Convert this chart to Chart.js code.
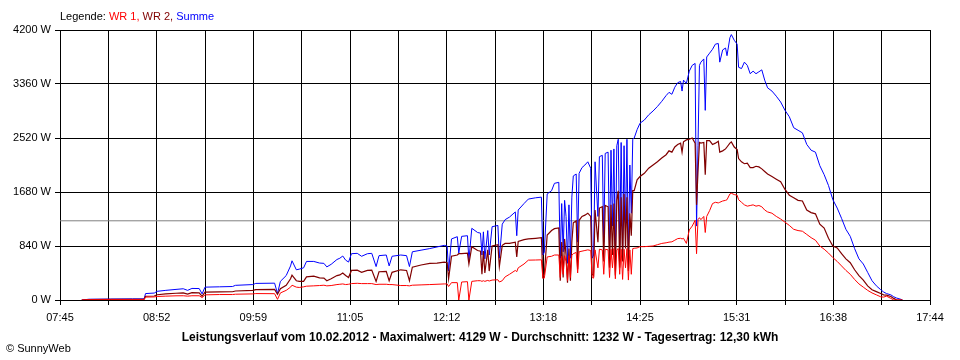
<!DOCTYPE html>
<html>
<head>
<meta charset="utf-8">
<script src="https://cdn.jsdelivr.net/npm/chart.js@4.4.1/dist/chart.umd.min.js"></script>
<style>
html,body{margin:0;padding:0;background:#fff;}
#wrap{position:relative;width:960px;height:360px;overflow:hidden;font-family:"Liberation Sans",Arial,sans-serif;font-size:11px;color:#000;background:#fff;}
#c{position:absolute;left:0;top:0;}
#legend{position:absolute;left:60px;top:10px;white-space:nowrap;line-height:13px;}
#title{position:absolute;left:0;width:960px;top:330px;text-align:center;font-weight:bold;font-size:12px;line-height:14px;white-space:nowrap;}
#copy{position:absolute;left:6px;top:342px;line-height:13px;white-space:nowrap;}
</style>
</head>
<body>
<div id="wrap">
<canvas id="c" width="960" height="360"></canvas>
<div id="legend">Legende: <span style="color:#ff0000">WR 1,</span> <span style="color:#800000">WR 2,</span> <span style="color:#0000ff">Summe</span></div>
<div id="title">Leistungsverlauf vom 10.02.2012 - Maximalwert: 4129 W - Durchschnitt: 1232 W - Tagesertrag: 12,30 kWh</div>
<div id="copy">© SunnyWeb</div>
</div>
<script>
// ---- data ----
const tickLabels = ['07:45','08:52','09:59','11:05','12:12','13:18','14:25','15:31','16:38','17:44'];
const xStart = '07:45';
const xEnd = '17:45';
const yMax = 4200;
const yStep = 840;
const average = 1232;

const times = ['08:00','08:05','08:20','08:35','08:43','08:44','08:50','08:52','08:58','09:05','09:10','09:13','09:16','09:21','09:23','09:25','09:35','09:44','09:46','09:58','10:00','10:13','10:15','10:17','10:21','10:24','10:25','10:28','10:30','10:33','10:35','10:40','10:44','10:47','10:49','10:52','10:56','10:58','11:00','11:02','11:04','11:06','11:10','11:13','11:17','11:20','11:23','11:25','11:30','11:32','11:34','11:40','11:44','11:46','11:48','11:54','12:00','12:05','12:10','12:12','12:13','12:15','12:19','12:20','12:22','12:26','12:27','12:29','12:33','12:35','12:36','12:37','12:38','12:40','12:41','12:43','12:47','12:48','12:50','12:52','12:55','12:59','13:00','13:01','13:05','13:08','13:13','13:17','13:18','13:19','13:21','13:24','13:26','13:29','13:30','13:31','13:32','13:33','13:34','13:35','13:36','13:37','13:38','13:39','13:41','13:42','13:43','13:45','13:47','13:49','13:51','13:52','13:53','13:54','13:56','13:57','13:59','14:00','14:01','14:03','14:04','14:05','14:06','14:07','14:08','14:09','14:10','14:11','14:12','14:13','14:14','14:15','14:16','14:17','14:18','14:19','14:20','14:21','14:23','14:25','14:28','14:31','14:34','14:37','14:40','14:43','14:45','14:47','14:49','14:51','14:53','14:54','14:55','14:57','14:59','15:01','15:03','15:04','15:05','15:06','15:07','15:09','15:10','15:11','15:13','15:15','15:17','15:19','15:20','15:22','15:24','15:25','15:27','15:28','15:30','15:32','15:33','15:35','15:37','15:39','15:41','15:43','15:45','15:47','15:49','15:51','15:53','15:56','15:59','16:02','16:05','16:08','16:11','16:14','16:17','16:20','16:23','16:26','16:29','16:32','16:35','16:38','16:41','16:44','16:47','16:50','16:53','16:56','16:59','17:02','17:05','17:08','17:11','17:13','17:15','17:18','17:20','17:22','17:25','17:26'];

const wr1 = [0,4,5,6,6,45,48,55,60,65,66,60,66,66,38,80,85,85,90,95,100,98,10,110,150,200,230,200,195,205,215,220,225,230,220,225,240,245,250,240,245,255,260,255,255,255,240,245,245,240,240,225,225,220,230,235,240,245,250,250,210,270,270,0,280,285,0,290,300,300,290,300,290,305,295,310,315,280,300,360,400,460,440,500,560,620,622,625,340,340,670,680,700,700,350,680,400,690,600,300,690,350,700,720,740,420,750,760,770,780,770,350,340,780,500,790,780,400,790,780,350,790,500,800,330,780,800,400,790,320,790,500,800,310,780,400,800,805,810,830,830,835,840,860,880,890,900,905,930,955,960,950,960,880,1090,1150,1240,720,1250,1280,1250,1300,1050,1300,1390,1500,1520,1510,1520,1540,1550,1560,1650,1660,1640,1630,1560,1520,1480,1460,1470,1480,1460,1470,1450,1400,1370,1350,1300,1260,1210,1160,1100,1080,1070,1020,970,930,840,790,730,660,600,530,460,400,320,250,200,150,110,80,50,45,60,25,0,0,0,0];

const wr2 = [0,8,10,12,12,58,62,82,95,105,110,92,114,112,58,122,125,128,140,150,160,165,90,175,230,330,385,300,290,290,360,370,345,340,300,330,380,390,420,380,350,460,465,430,460,465,290,440,445,300,430,470,460,300,510,545,570,575,590,580,330,680,700,720,720,730,560,830,770,760,400,760,420,780,450,840,860,520,850,880,880,900,670,910,940,950,960,970,360,400,1010,1080,1110,1120,300,900,350,950,700,270,800,300,900,1200,1230,480,1240,1300,1320,1350,1300,400,380,1400,900,1430,1450,600,1470,1450,500,1480,700,1500,380,1550,1700,500,1600,600,1650,800,1600,450,1350,1000,1700,1700,1870,1920,1970,2050,2100,2150,2210,2260,2320,2300,2380,2420,2440,2300,2460,2490,2500,2520,2440,1480,2000,2450,2440,2450,1950,2480,2480,2420,2440,2470,2300,2320,2350,2380,2440,2460,2380,2340,2200,2150,2120,2130,2060,2060,2080,2070,2040,2000,1960,1920,1880,1840,1720,1630,1590,1550,1540,1400,1360,1340,1180,1120,960,840,810,720,640,580,470,380,310,220,160,130,100,80,75,55,25,0,0,0];

const summe = [0,12,15,18,18,100,108,135,150,165,175,150,180,178,95,200,205,210,228,240,258,262,100,290,380,530,610,470,480,500,600,600,575,570,515,555,630,650,684,620,590,720,726,680,720,726,520,690,700,530,680,700,690,520,750,775,800,825,850,840,450,950,985,730,990,1000,620,1115,1050,1040,700,1060,640,1080,700,1140,1160,650,1180,1250,1290,1370,1000,1400,1500,1570,1590,1600,700,740,1650,1700,1815,1830,650,1500,750,1550,1300,570,1480,650,1600,1930,1960,900,1970,2060,2100,2150,2050,650,700,2150,1300,2230,2250,900,2280,2300,800,2330,1150,2350,600,2400,2500,850,2450,700,2400,1100,2500,650,2100,1350,2500,2520,2650,2750,2800,2880,2940,3010,3090,3180,3230,3200,3310,3380,3400,3250,3420,3370,3560,3650,3680,1150,2400,3650,3700,3750,2950,3780,3840,3900,3980,3990,3700,3890,3920,3800,4080,4129,4040,3980,3620,3600,3700,3650,3520,3560,3520,3550,3580,3420,3300,3250,3170,3080,2950,2850,2680,2640,2600,2420,2330,2300,2090,1950,1780,1560,1430,1270,1100,990,800,640,560,430,300,220,160,125,100,80,50,30,10,0];

// ---- helpers ----
function toMin(t){ const p = t.split(':'); return (+p[0])*60 + (+p[1]); }
const xMin = toMin(xStart), xMax = toMin(xEnd);
const gridCount = (tickLabels.length - 1) * 2;
const gridValues = [];
for (let i = 0; i <= gridCount; i++) gridValues.push(xMin + (xMax - xMin) * i / gridCount);

function series(vals){ return times.map((t, i) => ({x: toMin(t), y: vals[i]})); }

const font = {family: '"Liberation Sans", Arial, sans-serif', size: 11};

new Chart(document.getElementById('c'), {
  type: 'line',
  data: {
    datasets: [
      {label: 'WR 1', data: series(wr1), borderColor: '#ff0000', borderWidth: 1, pointRadius: 0, tension: 0, order: 0},
      {label: 'WR 2', data: series(wr2), borderColor: '#800000', borderWidth: 1.2, pointRadius: 0, tension: 0, order: 1},
      {label: 'Summe', data: series(summe), borderColor: '#0000ff', borderWidth: 1, pointRadius: 0, tension: 0, order: 2},
      {label: 'Durchschnitt', data: [{x: xMin, y: average}, {x: xMax, y: average}], borderColor: '#808080', borderWidth: 1, pointRadius: 0, order: 3}
    ]
  },
  options: {
    responsive: false,
    animation: false,
    events: [],
    layout: {padding: {top: 30, right: 30, left: 0, bottom: 0}},
    plugins: {legend: {display: false}, tooltip: {enabled: false}, title: {display: false}},
    scales: {
      x: {
        type: 'linear', min: xMin, max: xMax,
        afterBuildTicks: (s) => { s.ticks = gridValues.map(v => ({value: v})); },
        afterFit: (s) => { s.height = 60; },
        grid: {color: '#000', lineWidth: 1, tickLength: 5, drawTicks: true},
        border: {color: '#000', width: 1},
        ticks: {
          autoSkip: false, maxRotation: 0, minRotation: 0, padding: 6, color: '#000', font: font,
          callback: (v, i) => (i % 2 === 0 ? tickLabels[i / 2] : '')
        }
      },
      y: {
        min: 0, max: yMax,
        afterFit: (s) => { s.width = 60; },
        grid: {color: '#000', lineWidth: 1, tickLength: 5, drawTicks: true},
        border: {color: '#000', width: 1},
        ticks: {stepSize: yStep, padding: 4, color: '#000', font: font, callback: (v) => v + ' W'}
      }
    }
  }
});
</script>
</body>
</html>
